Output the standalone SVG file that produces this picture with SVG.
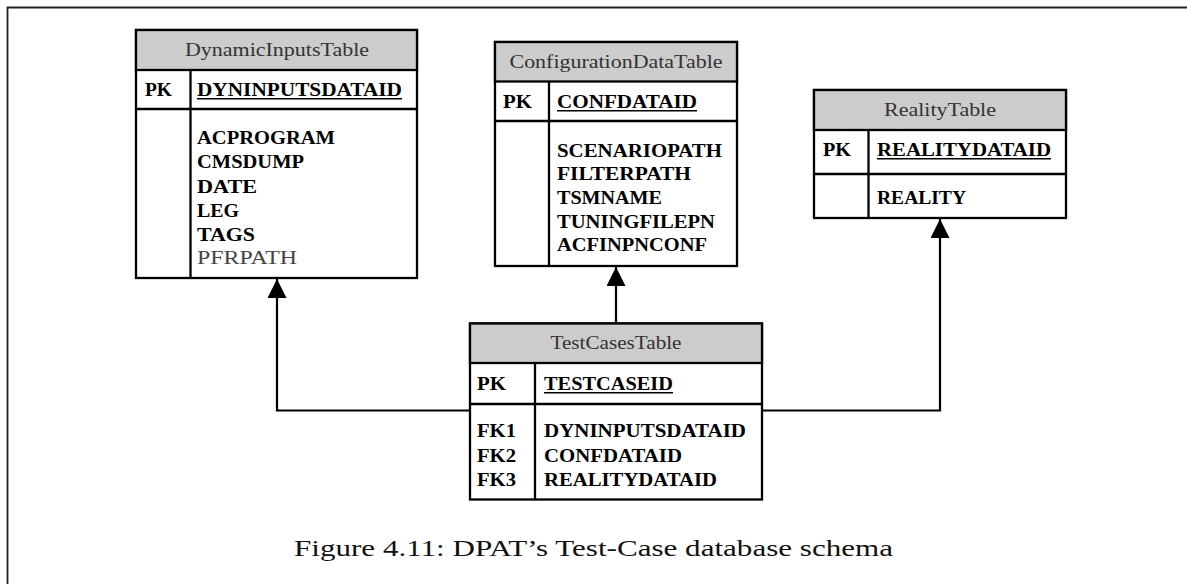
<svg xmlns="http://www.w3.org/2000/svg" width="1187" height="584" viewBox="0 0 1187 584">
  <style>
    .box { fill: #ffffff; stroke: #000; stroke-width: 2.3; }
    .head { fill: #cccccc; stroke: #000; stroke-width: 2.3; }
    .rule { stroke: #000; stroke-width: 2.3; fill: none; }
    .title { font-family: "Liberation Serif", serif; font-size: 19px; fill: #333; text-anchor: middle; }
    .fld { font-family: "Liberation Serif", serif; font-size: 19px; font-weight: bold; fill: #000; }
    .reg { font-family: "Liberation Serif", serif; font-size: 19px; fill: #444; }
    .ul { stroke: #000; stroke-width: 1.4; }
    .conn { stroke: #000; stroke-width: 2.2; fill: none; marker-end: url(#tri); }
    .frame { stroke: #222; stroke-width: 1.8; fill: none; }
    .caption { font-family: "Liberation Serif", serif; font-size: 24px; fill: #111; }
  </style>
  <defs>
    <marker id="tri" viewBox="0 0 10 10" refX="10" refY="5" markerUnits="userSpaceOnUse" markerWidth="19" markerHeight="19" orient="auto">
      <path d="M0,0 L10,5 L0,10 z" fill="#000"/>
    </marker>
  </defs>

  <rect width="1187" height="584" fill="#ffffff"/>
  <path class="frame" d="M7.5,584 V7.5 H1187"/>

  <!-- DynamicInputsTable -->
  <g id="dynamic-inputs-table">
    <rect class="box" x="136" y="30" width="281" height="248"/>
    <rect class="head" x="136" y="30" width="281" height="40"/>
    <line class="rule" x1="136" y1="109" x2="417" y2="109"/>
    <line class="rule" x1="190.5" y1="70" x2="190.5" y2="278"/>
    <text class="title" x="277" y="56" textLength="184" lengthAdjust="spacingAndGlyphs">DynamicInputsTable</text>
    <text class="fld" x="145" y="96" textLength="27" lengthAdjust="spacingAndGlyphs">PK</text>
    <text class="fld" x="197" y="96" textLength="205" lengthAdjust="spacingAndGlyphs">DYNINPUTSDATAID</text>
    <line class="ul" x1="197" y1="98.8" x2="402" y2="98.8"/>
    <text class="fld" x="197" y="144" textLength="138" lengthAdjust="spacingAndGlyphs">ACPROGRAM</text>
    <text class="fld" x="197" y="168" textLength="107" lengthAdjust="spacingAndGlyphs">CMSDUMP</text>
    <text class="fld" x="197" y="192.5" textLength="60" lengthAdjust="spacingAndGlyphs">DATE</text>
    <text class="fld" x="197" y="216.5" textLength="42" lengthAdjust="spacingAndGlyphs">LEG</text>
    <text class="fld" x="197" y="240.5" textLength="58" lengthAdjust="spacingAndGlyphs">TAGS</text>
    <text class="reg" x="197" y="263.5" textLength="100" lengthAdjust="spacingAndGlyphs">PFRPATH</text>
  </g>

  <!-- ConfigurationDataTable -->
  <g id="configuration-data-table">
    <rect class="box" x="495" y="42" width="242" height="224"/>
    <rect class="head" x="495" y="42" width="242" height="39.5"/>
    <line class="rule" x1="495" y1="121" x2="737" y2="121"/>
    <line class="rule" x1="549" y1="81.5" x2="549" y2="266"/>
    <text class="title" x="616" y="68" textLength="213" lengthAdjust="spacingAndGlyphs">ConfigurationDataTable</text>
    <text class="fld" x="503" y="108" textLength="29" lengthAdjust="spacingAndGlyphs">PK</text>
    <text class="fld" x="557" y="108" textLength="140" lengthAdjust="spacingAndGlyphs">CONFDATAID</text>
    <line class="ul" x1="557" y1="110.8" x2="697" y2="110.8"/>
    <text class="fld" x="557" y="156.5" textLength="165" lengthAdjust="spacingAndGlyphs">SCENARIOPATH</text>
    <text class="fld" x="557" y="180" textLength="134" lengthAdjust="spacingAndGlyphs">FILTERPATH</text>
    <text class="fld" x="557" y="204" textLength="105" lengthAdjust="spacingAndGlyphs">TSMNAME</text>
    <text class="fld" x="557" y="227.5" textLength="158" lengthAdjust="spacingAndGlyphs">TUNINGFILEPN</text>
    <text class="fld" x="557" y="251" textLength="150" lengthAdjust="spacingAndGlyphs">ACFINPNCONF</text>
  </g>

  <!-- RealityTable -->
  <g id="reality-table">
    <rect class="box" x="814" y="90" width="252" height="128"/>
    <rect class="head" x="814" y="90" width="252" height="40"/>
    <line class="rule" x1="814" y1="174" x2="1066" y2="174"/>
    <line class="rule" x1="868.5" y1="130" x2="868.5" y2="218"/>
    <text class="title" x="940" y="116" textLength="112" lengthAdjust="spacingAndGlyphs">RealityTable</text>
    <text class="fld" x="823" y="156" textLength="28" lengthAdjust="spacingAndGlyphs">PK</text>
    <text class="fld" x="877" y="156" textLength="174" lengthAdjust="spacingAndGlyphs">REALITYDATAID</text>
    <line class="ul" x1="877" y1="158.8" x2="1051" y2="158.8"/>
    <text class="fld" x="877" y="204" textLength="89" lengthAdjust="spacingAndGlyphs">REALITY</text>
  </g>

  <!-- TestCasesTable -->
  <g id="test-cases-table">
    <rect class="box" x="470" y="323.5" width="292" height="176"/>
    <rect class="head" x="470" y="323.5" width="292" height="39.5"/>
    <line class="rule" x1="470" y1="404" x2="762" y2="404"/>
    <line class="rule" x1="535" y1="363" x2="535" y2="499.5"/>
    <text class="title" x="616" y="348.5" textLength="131" lengthAdjust="spacingAndGlyphs">TestCasesTable</text>
    <text class="fld" x="477" y="390" textLength="29" lengthAdjust="spacingAndGlyphs">PK</text>
    <text class="fld" x="544" y="390" textLength="129" lengthAdjust="spacingAndGlyphs">TESTCASEID</text>
    <line class="ul" x1="544" y1="392.8" x2="673" y2="392.8"/>
    <text class="fld" x="477" y="437" textLength="39" lengthAdjust="spacingAndGlyphs">FK1</text>
    <text class="fld" x="477" y="461.5" textLength="39" lengthAdjust="spacingAndGlyphs">FK2</text>
    <text class="fld" x="477" y="485.5" textLength="39" lengthAdjust="spacingAndGlyphs">FK3</text>
    <text class="fld" x="544" y="437" textLength="202" lengthAdjust="spacingAndGlyphs">DYNINPUTSDATAID</text>
    <text class="fld" x="544" y="461.5" textLength="138" lengthAdjust="spacingAndGlyphs">CONFDATAID</text>
    <text class="fld" x="544" y="485.5" textLength="173" lengthAdjust="spacingAndGlyphs">REALITYDATAID</text>
  </g>

  <!-- foreign-key connectors -->
  <g id="connectors">
    <path class="conn" d="M470,410.5 H277 V279"/>
    <path class="conn" d="M616,323.5 V267"/>
    <path class="conn" d="M762,410.5 H940 V219"/>
  </g>

  <text class="caption" x="294" y="556" textLength="599" lengthAdjust="spacingAndGlyphs">Figure 4.11: DPAT’s Test-Case database schema</text>
</svg>
